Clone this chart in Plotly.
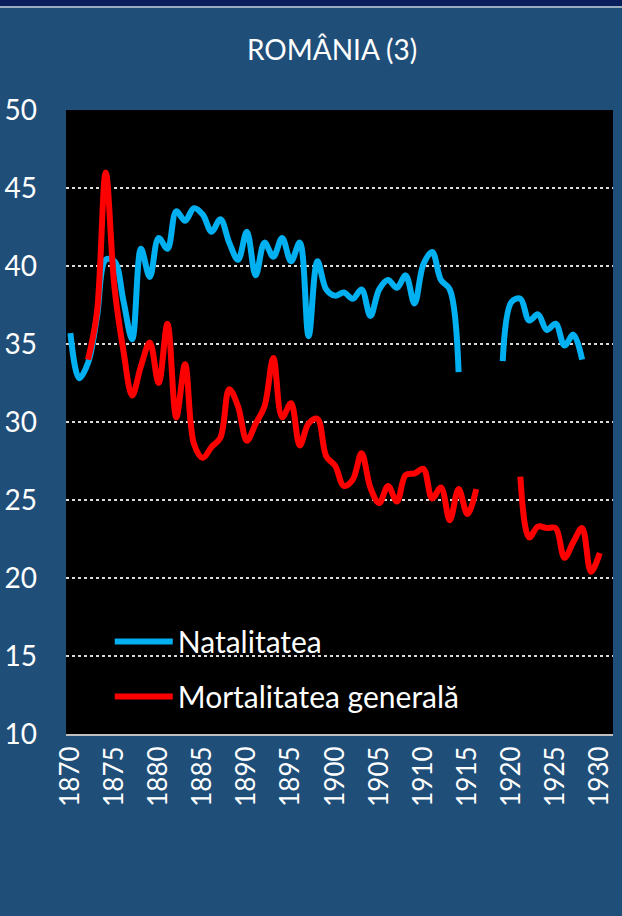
import plotly.graph_objects as go

years = list(range(1870, 1931))
natalitatea = [35.7, 32.8, 33.8, 36.7, 40.4, 40.3, 37.8, 35.3, 41.1, 39.3,
               41.8, 41.1, 43.5, 42.9, 43.7, 43.3, 42.2, 43.0, 41.5, 40.4,
               42.2, 39.4, 41.5, 40.6, 41.8, 40.3, 41.5, 35.5, 40.3, 38.5,
               38.1, 38.3, 37.9, 38.5, 36.8, 38.5, 39.1, 38.6, 39.4, 37.6,
               40.1, 40.9, 39.1, 38.5, 33.2, None, None, None, None, 33.9,
               37.7, 37.9, 36.5, 36.9, 35.9, 36.3, 34.9, 35.6, 34.0, None, None]
mortalitatea = [None, None, 34.0, 37.0, 46.0, 38.6, 34.6, 31.7, 33.6, 35.1,
                32.5, 36.3, 30.3, 33.7, 28.6, 27.7, 28.4, 29.0, 32.1, 31.0,
                28.8, 29.9, 31.0, 34.1, 30.3, 31.2, 28.5, 29.9, 30.2, 27.8,
                27.2, 25.9, 26.3, 28.0, 25.8, 24.8, 25.9, 24.9, 26.6, 26.7,
                27.0, 25.1, 25.8, 23.7, 25.7, 24.1, 25.7, None, None, None,
                None, 26.5, 22.6, 23.3, 23.2, 23.2, 21.3, 22.3, 23.2, 20.4, 21.6]
x_ticks = list(range(1870, 1931, 5))
y_ticks = list(range(10, 51, 5))

title_text = "ROMÂNIA (3)"
name_nat = "Natalitatea"
name_mort = "Mortalitatea generală"

FONT = "Lato"
BG = "#1F4E79"

fig = go.Figure()
fig.add_trace(go.Scatter(
    x=years, y=natalitatea, name=name_nat, mode="lines",
    line=dict(color="#00B0F0", width=6, shape="spline", smoothing=1.0),
    connectgaps=False, legendgroup="a"))
fig.add_trace(go.Scatter(
    x=years, y=mortalitatea, name=name_mort, mode="lines",
    line=dict(color="#FF0000", width=6, shape="spline", smoothing=1.0),
    connectgaps=False, legendgroup="b"))

fig.update_layout(
    width=622, height=916,
    paper_bgcolor=BG, plot_bgcolor="#000000",
    margin=dict(l=66, r=9, t=110, b=182, pad=0, autoexpand=False),
    title=dict(text=title_text, x=0.534, xanchor="center", xref="container",
               y=1 - 50 / 916, yanchor="middle", yref="container",
               font=dict(family=FONT, size=28, color="#FFFFFF")),
    showlegend=True,
    legend=dict(x=0.08, y=0.19, xanchor="left", yanchor="top",
                bgcolor="rgba(0,0,0,0)", borderwidth=0,
                font=dict(family=FONT, size=30, color="#FFFFFF"),
                itemwidth=58, tracegroupgap=13, traceorder="grouped"),
    xaxis=dict(range=[1869.5, 1931.5], tickvals=x_ticks,
               ticktext=[str(v) for v in x_ticks], tickangle=-90,
               tickfont=dict(family=FONT, size=26, color="#FFFFFF"),
               showgrid=False, zeroline=False, showline=True, automargin=False,
               linecolor="#BFBFBF", linewidth=2, ticks=""),
    yaxis=dict(range=[10, 50], tickvals=y_ticks,
               tickfont=dict(family=FONT, size=28, color="#FFFFFF"),
               showgrid=True, gridcolor="#D9D9D9", griddash="dot", gridwidth=1.5,
               zeroline=False, showline=False, ticks="", automargin=False,
               ticklabelstandoff=28),
)

# outer frame: dark top strip and light separator line
fig.add_shape(type="rect", xref="paper", yref="paper",
              x0=-66 / 547, x1=556 / 547, y0=(734 - 6) / 624, y1=734 / 624,
              fillcolor="#0B1F5C", line=dict(width=0), layer="below")
fig.add_shape(type="line", xref="paper", yref="paper",
              x0=-66 / 547, x1=556 / 547, y0=(734 - 7) / 624, y1=(734 - 7) / 624,
              line=dict(color="#C8CED8", width=1.5), layer="below")

fig.write_html("out.html", config={"displayModeBar": False},
               post_script="document.body.style.margin='0px';")
